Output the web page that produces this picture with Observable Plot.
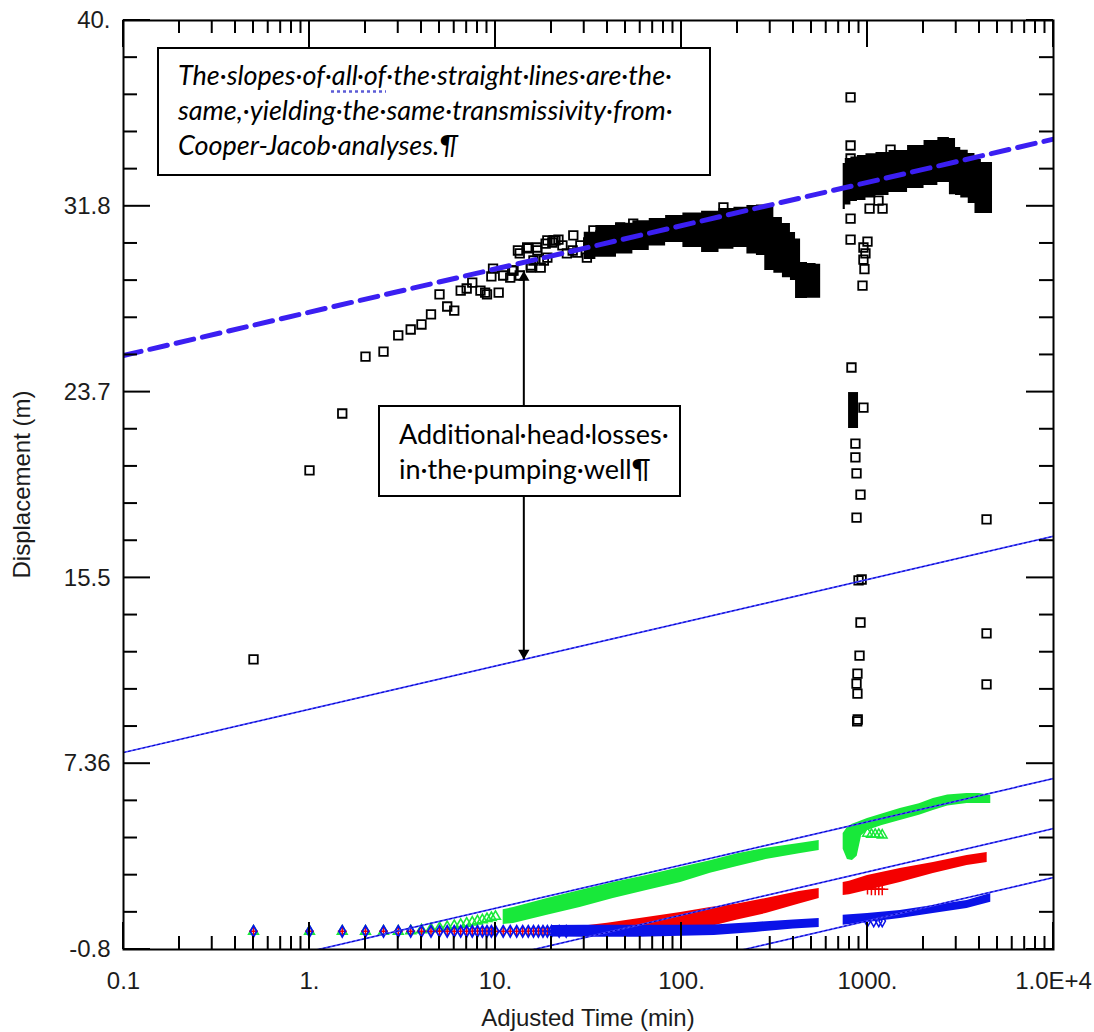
<!DOCTYPE html>
<html><head><meta charset="utf-8">
<script src="https://cdn.jsdelivr.net/npm/d3@7"></script>
<script src="https://cdn.jsdelivr.net/npm/@observablehq/plot@0.6"></script>
<style>
html,body{margin:0;padding:0;background:#fff;}
#wrap{position:relative;width:1094px;height:1032px;}
.note{position:absolute;background:#fff;border:2px solid #000;box-sizing:border-box;font-family:Lato,"Open Sans",sans-serif;font-size:27px;color:#000;line-height:35px;white-space:nowrap;}
.ul{text-decoration:underline dotted #5b5bd6;text-underline-offset:5px;}
</style></head>
<body><div id="wrap"><div id="chart"></div>
<div class="note" style="left:157px;top:47px;width:554px;height:129px;padding:8px 0 0 19px;font-style:italic">The·slopes·of·<span class="ul">all·of</span>·the·straight·lines·are·the·<br>same,·yielding·the·same·transmissivity·from·<br>Cooper-Jacob·analyses.¶</div>
<div class="note" style="left:378px;top:405px;width:303px;height:92px;padding:9px 0 0 19px">Additional·head·losses·<br>in·the·pumping·well¶</div>
</div>
<script>
// ---- axis ticks ----
const xTickValues = [0.1, 1, 10, 100, 1000, 10000];
const xTickLabels = ["0.1", "1.", "10.", "100.", "1000.", "1.0E+4"];
const yTickValues = [-0.8, 7.36, 15.52, 23.68, 31.84, 40];
const yTickLabels = ["-0.8", "7.36", "15.5", "23.7", "31.8", "40."];
const xTitle = "Adjusted Time (min)";
const yTitle = "Displacement (m)";

// ---- Cooper-Jacob straight lines: v = a + slope*log10(t) ----
const lineIntercepts = [27.19, 9.75, -0.89, -3.09, -5.24];
const lineSlope = 1.9;

// ---- pumping well: isolated squares ----
const sqT = [0.5,1,1.5,2,2.5,3,3.5,4,4.5,5,5.5,6,6.5,7,7.5,8.3,8.8,9,9.5,9.7,10.4,11,12,12.3,12.5,13.2,13.5,13.5,14.8,15,15.5,15.5,16,16.7,16.8,17.5,18.2,18.6,19,19,20.2,20.5,21,21.8,22.9,24.2,26,26.2,27.5,28.6,31,31.5,33.6,36.6,41.5,46.8,55,168,
  811,811,811,811,811,820,1000,951,975,951,963,940,1026,1205,1146,1330,951,861,861,873,917,873,895,930,917,906,883,873,883,880,886,4365,4365,4365];
const sqV = [11.94,20.24,22.74,25.24,25.46,26.17,26.43,26.65,27.09,27.97,27.44,27.26,28.14,28.23,28.49,28.14,28.05,27.97,28.76,29.1,28.05,28.8,28.71,29.02,29.02,29.9,29.77,28.8,30.03,29.99,29.15,29.24,29.46,30.03,29.9,29.15,29.46,30.2,29.59,30.34,30.25,30.34,30.34,30.38,30.12,29.77,29.9,30.56,29.81,30.12,29.59,30.25,30.78,30.56,30.78,30.91,31.08,31.79,
  36.62,34.51,33.94,31.30,30.38,24.76,30.29,30.03,29.77,29.5,29.08,28.36,31.74,31.74,32.09,34.33,23.0,21.42,20.81,20.11,19.18,18.17,15.41,15.45,13.56,12.11,11.32,10.88,10.44,9.22,9.3,18.09,13.08,10.84];

// ---- pumping well: dense clouds (envelope of the packed squares) ----
const b1T  = [30, 40, 50, 60, 75, 90, 115, 143, 177, 207, 244, 262, 300, 328, 371, 400, 421, 453, 500, 560];
const b1Hi = [30.7, 31.0, 31.1, 31.2, 31.3, 31.44, 31.55, 31.62, 31.74, 31.8, 31.88, 31.9, 31.85, 31.35, 31.08, 30.69, 30.4, 29.37, 29.33, 29.3];
const b1Lo = [29.5, 29.6, 29.75, 29.9, 30.1, 30.25, 30.03, 29.81, 29.95, 30.03, 29.75, 29.68, 29.02, 28.9, 28.7, 28.58, 27.79, 27.79, 27.8, 27.8];
const b2T  = [740, 780, 850, 917, 1050, 1175, 1450, 1860, 2180, 2620, 2900, 3050, 3300, 3670, 3900, 4300, 4700];
const b2Hi = [33.72, 33.94, 34.0, 34.07, 34.15, 34.2, 34.29, 34.51, 34.73, 34.86, 34.82, 34.42, 34.3, 34.16, 33.9, 33.76, 33.76];
const b2Lo = [31.7, 31.9, 32.05, 32.1, 32.2, 32.31, 32.45, 32.62, 32.75, 32.89, 32.35, 32.31, 32.2, 31.96, 31.52, 31.52, 31.52];
const barT = [791, 895];
const barHi = [23.66, 23.66];
const barLo = [22.08, 22.08];

// ---- observation wells ----
const earlyT = [0.5,1,1.5,2,2.5,3,3.5,4,4.5,5,5.5,6,6.5,7,7.5,8,8.5,9,9.5,10,11,12,13,14,15,16,17,18,19,20,22,24];
const blueEarlyV = [0,0,0,0,0,0,0,0,0,0,0,0,0,0,0,0,0,0,0,0,0,0,0,0,0,0,0,0,0,0,0,0];
const redEarlyV  = [0,0,0,0,0,0,0,0,0,0,0,0,0,0,0,0,0,0,0,0,0,0,0,0,0,0,0,0,0,0,0,0];
const greenEarlyT = [0.5,1,1.5,2,2.5,3,3.5,4,4.5,5,5.5,6,6.5,7,7.5,8,8.5,9,9.5,10];
const greenEarlyV = [0,0,0,0,0,0,0.02,0.06,0.1,0.15,0.2,0.25,0.3,0.35,0.4,0.45,0.5,0.55,0.6,0.65];

const g1T  = [11, 12.5, 19, 28.5, 43, 65, 99, 143, 200, 285, 430, 550];
const g1Lo = [0.3, 0.34, 0.70, 1.05, 1.44, 1.79, 2.14, 2.55, 2.85, 3.15, 3.4, 3.55];
const g1Hi = [0.95, 1.04, 1.44, 1.79, 2.14, 2.45, 2.8, 3.1, 3.4, 3.65, 3.85, 3.99];
const g2T  = [740, 780, 830, 880, 930, 1000, 1200, 1500, 1900, 2260, 2700, 3430, 4000, 4600];
const g2Lo = [3.6, 3.15, 3.11, 3.3, 4.2, 4.43, 4.65, 4.87, 5.1, 5.3, 5.5, 5.61, 5.61, 5.61];
const g2Hi = [4.3, 4.56, 4.7, 4.78, 4.85, 4.95, 5.15, 5.39, 5.6, 5.83, 5.98, 6.05, 6.05, 5.96];

const r1T  = [25, 40, 65, 99, 143, 200, 285, 430, 550];
const r1Lo = [-0.1, -0.1, -0.05, 0.04, 0.2, 0.5, 0.78, 1.2, 1.44];
const r1Hi = [0.15, 0.35, 0.6, 0.83, 1.04, 1.2, 1.44, 1.75, 1.88];
const r2T  = [740, 800, 1000, 1500, 2260, 3430, 4400];
const r2Lo = [1.57, 1.6, 1.79, 2.14, 2.54, 2.89, 3.02];
const r2Hi = [2.14, 2.2, 2.45, 2.76, 3.02, 3.33, 3.46];

const bl1T  = [20, 30, 60, 100, 150, 250, 400, 550];
const bl1Lo = [-0.25, -0.26, -0.26, -0.22, -0.18, -0.05, 0.1, 0.17];
const bl1Hi = [0.25, 0.26, 0.26, 0.26, 0.28, 0.39, 0.5, 0.56];
const bl2T  = [740, 1000, 1500, 2260, 3430, 4600];
const bl2Lo = [0.26, 0.39, 0.56, 0.78, 1.0, 1.27];
const bl2Hi = [0.7, 0.78, 0.91, 1.13, 1.35, 1.66];

const greenHollowT = [1000, 1050, 1100, 1150, 1200];
const greenHollowV = [4.3, 4.25, 4.25, 4.25, 4.22];
const redHollowT = [1000, 1050, 1100, 1150, 1200];
const redHollowV = [1.88, 1.85, 1.85, 1.85, 1.85];
const blueHollowT = [1000, 1080, 1150, 1200];
const blueHollowV = [0.45, 0.45, 0.45, 0.45];

// ---- annotation arrow ----
const arrowT = [14.2];
const arrowTop = [29.0];
const arrowBottom = [11.94];

// ---------------------------------------------------------------
const pts = (T, V) => T.map((t, i) => ({t, v: V[i]}));
const band = (T, Lo, Hi) => T.map((t, i) => ({t, lo: Lo[i], hi: Hi[i]}));
const xDomain = [0.1, 10000], yDomain = [-0.8, 40];
const fitLines = lineIntercepts.map((a, k) => xDomain.map(t => ({k, t, v: a + lineSlope * Math.log10(t)})));

const GREEN = "#18e83a", RED = "#f40000", BLUE = "#0a12e8", LINEBLUE = "#4a4aff";
const xLab = new Map(xTickValues.map((v, i) => [v, xTickLabels[i]]));
const yLab = new Map(yTickValues.map((v, i) => [v, yTickLabels[i]]));
const blackArea = {x: "t", y1: "lo", y2: "hi", fill: "#000", curve: "step"};
const colArea = (fill) => ({x: "t", y1: "lo", y2: "hi", fill, curve: "linear"});

const chart = Plot.plot({
  width: 1094, height: 1032,
  marginLeft: 123, marginRight: 41, marginTop: 20, marginBottom: 83,
  x: {type: "log", domain: xDomain},
  y: {domain: yDomain},
  style: {fontFamily: '"Liberation Sans", Arial, sans-serif', fontSize: "24px", color: "#1c1c1c", background: "#fff"},
  marks: [
    // pumping well dense clouds
    Plot.areaY(band(b1T, b1Lo, b1Hi), blackArea),
    Plot.areaY(band(b2T, b2Lo, b2Hi), blackArea),
    Plot.areaY(band(barT, barLo, barHi), {x: "t", y1: "lo", y2: "hi", fill: "#000"}),
    Plot.dot(pts(sqT, sqV), {x: "t", y: "v", symbol: "square", r: 4.8, stroke: "#000", strokeWidth: 1.8, fill: "none"}),
    // observation wells
    Plot.dot(pts(greenEarlyT, greenEarlyV), {x: "t", y: "v", symbol: "triangle", r: 3.6, stroke: GREEN, strokeWidth: 1.6, fill: "none"}),
    Plot.areaY(band(g1T, g1Lo, g1Hi), colArea(GREEN)),
    Plot.areaY(band(g2T, g2Lo, g2Hi), colArea(GREEN)),
    Plot.dot(pts(greenHollowT, greenHollowV), {x: "t", y: "v", symbol: "triangle", r: 3.6, stroke: GREEN, strokeWidth: 1.5, fill: "none"}),
    Plot.areaY(band(r1T, r1Lo, r1Hi), colArea(RED)),
    Plot.areaY(band(r2T, r2Lo, r2Hi), colArea(RED)),
    Plot.dot(pts(earlyT, redEarlyV), {x: "t", y: "v", symbol: "plus", r: 3, stroke: RED, strokeWidth: 1.5}),
    Plot.dot(pts(redHollowT, redHollowV), {x: "t", y: "v", symbol: "plus", r: 4, stroke: RED, strokeWidth: 1.5}),
    Plot.areaY(band(bl1T, bl1Lo, bl1Hi), colArea(BLUE)),
    Plot.areaY(band(bl2T, bl2Lo, bl2Hi), colArea(BLUE)),
    Plot.dot(pts(earlyT, blueEarlyV), {x: "t", y: "v", symbol: "diamond", r: 3.4, stroke: BLUE, strokeWidth: 1.8, fill: "none"}),
    Plot.dot(pts(blueHollowT, blueHollowV), {x: "t", y: "v", symbol: "diamond", r: 3.4, stroke: BLUE, strokeWidth: 1.5, fill: "none"}),
    // Cooper-Jacob straight lines
    Plot.line(fitLines[0], {x: "t", y: "v", stroke: "#3b1ff2", strokeWidth: 5, strokeDasharray: "18,9", clip: true}),
    ...fitLines.slice(1).map(d => Plot.line(d, {x: "t", y: "v", stroke: LINEBLUE, strokeWidth: 1.7, clip: true})),
    ...fitLines.slice(1).map(d => Plot.line(d, {x: "t", y: "v", stroke: "#0000c0", strokeWidth: 1, strokeDasharray: "2,3", clip: true})),
    // arrow
    Plot.ruleX(arrowT, {x: d => d, y1: arrowBottom[0], y2: arrowTop[0], stroke: "#000", strokeWidth: 2}),
    Plot.dot(arrowT.map((t, i) => ({t, v: arrowTop[i]})), {x: "t", y: "v", symbol: "triangle", r: 4.2, fill: "#000", dy: 6.5}),
    Plot.dot(arrowT.map((t, i) => ({t, v: arrowBottom[i]})), {x: "t", y: "v", symbol: "triangle", r: 4.2, fill: "#000", rotate: 180, dy: -6.5}),
    // frame + axes
    Plot.frame({stroke: "#000", strokeWidth: 2}),
    Plot.axisX(xTickValues, {tickSize: 0, tickPadding: 22, tickFormat: d => xLab.get(d), label: null, fontSize: 24}),
    Plot.axisY(yTickValues, {tickSize: 0, tickPadding: 13, tickFormat: d => yLab.get(d), label: null, fontSize: 24})
  ]
});
document.getElementById("chart").appendChild(chart);

// inward ticks on all four sides and axis titles, positioned with the plot's own scales
const sx = chart.scale("x"), sy = chart.scale("y");
const L = sx.apply(xDomain[0]), R = sx.apply(xDomain[1]);
const B = sy.apply(yDomain[0]), T = sy.apply(yDomain[1]);
const svg = d3.select(chart);
const g = svg.append("g").attr("stroke", "#000").attr("stroke-width", 2);
const xMinor = [];
for (const d of xTickValues.slice(0, -1)) for (let k = 2; k <= 9; k++) xMinor.push(d * k);
const yStep = (yTickValues[1] - yTickValues[0]) / 5;
const yMinor = [];
for (const d of yTickValues.slice(0, -1)) for (let k = 1; k <= 4; k++) yMinor.push(d + k * yStep);
function vt(x, y0, y1) { g.append("line").attr("x1", x).attr("x2", x).attr("y1", y0).attr("y2", y1); }
function ht(y, x0, x1) { g.append("line").attr("y1", y).attr("y2", y).attr("x1", x0).attr("x2", x1); }
for (const v of xMinor) { const p = sx.apply(v); vt(p, B, B - 13); vt(p, T, T + 13); }
for (const v of xTickValues) { const p = sx.apply(v); vt(p, B, B - 27); vt(p, T, T + 27); }
for (const v of yMinor) { const p = sy.apply(v); ht(p, L, L + 14); ht(p, R, R - 14); }
for (const v of yTickValues) { const p = sy.apply(v); ht(p, L, L + 27); ht(p, R, R - 27); }

const titleStyle = (s) => s.attr("font-family", '"Liberation Sans", Arial, sans-serif').attr("font-size", 24).attr("fill", "#1c1c1c").attr("text-anchor", "middle");
svg.append("text").call(titleStyle).attr("x", (L + R) / 2).attr("y", B + 77).text(xTitle);
svg.append("text").call(titleStyle).attr("transform", `translate(${L - 93},${(T + B) / 2}) rotate(-90)`).text(yTitle);
</script>
</body></html>
